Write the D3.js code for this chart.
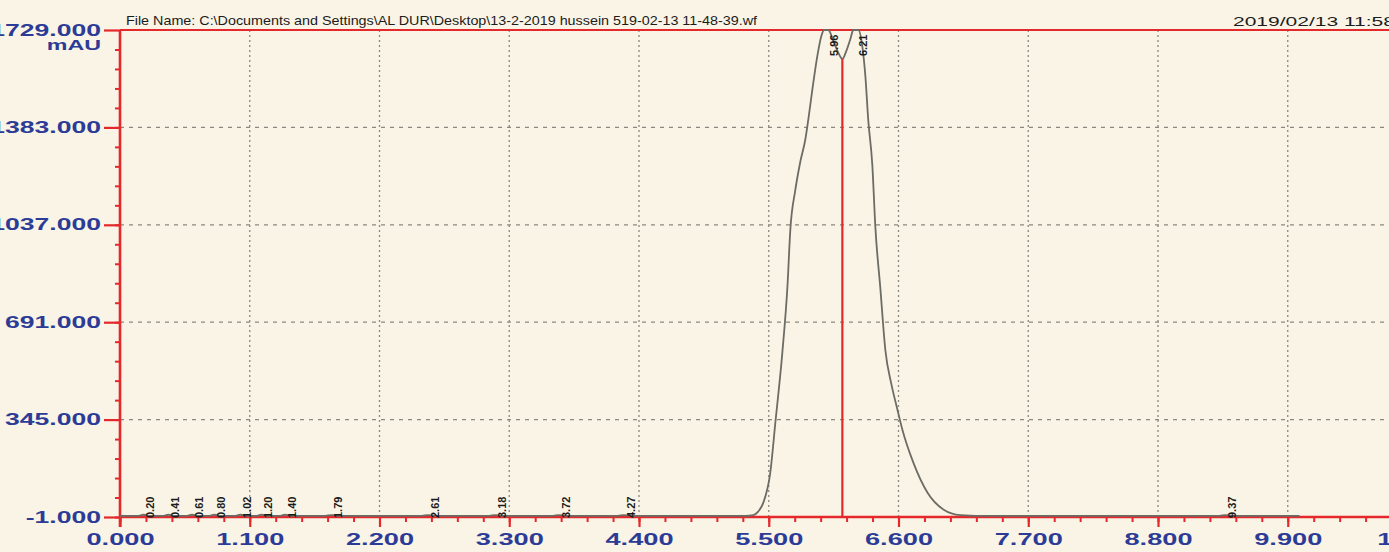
<!DOCTYPE html>
<html>
<head>
<meta charset="utf-8">
<script src="https://cdn.jsdelivr.net/npm/d3@7"></script>
<style>
  html, body { margin: 0; padding: 0; background: #faf4e6; overflow: hidden; }
  svg { display: block; }
</style>
</head>
<body>
<div id="chart"></div>
<script>
// tick values
const yTicks = [-1, 345, 691, 1037, 1383, 1729];
const xTicks = [0, 1.1, 2.2, 3.3, 4.4, 5.5, 6.6, 7.7, 8.8, 9.9, 11];

// retention times printed above each peak
const peakTimes = [0.20, 0.41, 0.61, 0.80, 1.02, 1.20, 1.40, 1.79, 2.61, 3.18, 3.72, 4.27, 5.96, 6.21, 9.37];
const peakLabels = ["0.20", "0.41", "0.61", "0.80", "1.02", "1.20", "1.40", "1.79", "2.61", "3.18", "3.72", "4.27", "5.96", "6.21", "9.37"];
const topPeaks = ["5.96", "6.21"];

// detector trace (min, mAU), clipped at full scale
const traceTime = [
  0, 0.15, 0.20, 0.26, 0.36, 0.41, 0.47, 0.56, 0.61, 0.67, 0.75, 0.80, 0.86,
  0.97, 1.02, 1.08, 1.15, 1.20, 1.26, 1.35, 1.40, 1.46, 1.74, 1.79, 1.86,
  2.56, 2.61, 2.68, 3.13, 3.18, 3.25, 3.67, 3.72, 3.79, 4.22, 4.27, 4.34,
  5.00, 5.30, 5.37, 5.41, 5.454, 5.513, 5.556, 5.615, 5.658, 5.683, 5.725,
  5.768, 5.81, 5.835, 5.869, 5.912, 5.946, 5.97, 6.005, 6.048, 6.09, 6.124,
  6.158, 6.192, 6.217, 6.26, 6.293, 6.319, 6.344, 6.378, 6.404, 6.446, 6.489,
  6.54, 6.59, 6.633, 6.726, 6.845, 6.98, 7.125, 7.38, 8.50, 9.32, 9.37, 9.43, 10.0
];
const traceSignal = [
  3, 3, 7, 3, 3, 7, 3, 3, 7, 3, 3, 7, 3,
  3, 7, 3, 3, 7, 3, 3, 7, 3, 3, 6, 3,
  3, 6, 3, 3, 6, 3, 3, 6, 3, 3, 6, 3,
  3, 3, 6, 18, 50, 157, 334, 582, 815, 1020, 1160,
  1262, 1340, 1410, 1515, 1637, 1708, 1729, 1729, 1690, 1648, 1626,
  1655, 1697, 1729, 1729, 1672, 1566, 1407, 1250, 1028, 812, 590,
  470, 382, 309, 192, 86, 26, 6, 3, 3, 3, 6, 3, 3
];
const valleyTime = 6.124;
const valleySignal = 1626;

const title = "File Name: C:\\Documents and Settings\\AL DUR\\Desktop\\13-2-2019 hussein 519-02-13 11-48-39.wf";
const stamp = "2019/02/13 11:58";

const width = 1389, height = 552;
const red = "#e5282b", blue = "#2c3c96", ink = "#1c1c1c";
const font = "'Liberation Sans', Arial, sans-serif";
const fmt = d => d3.format(".3f")(d).replace("\u2212", "-");

const x = d3.scaleLinear().domain([0, 11]).range([120, 1417.5]);
const y = d3.scaleLinear().domain([-1, 1729]).range([517, 30]);

const svg = d3.select("#chart").append("svg")
  .attr("width", width)
  .attr("height", height)
  .style("font-family", font);

svg.append("rect").attr("width", width).attr("height", height).attr("fill", "#faf4e6");

// dotted grid
svg.append("g").selectAll("line")
  .data(xTicks.filter(d => d > 0 && d < 11))
  .join("line")
  .attr("x1", d => x(d)).attr("x2", d => x(d))
  .attr("y1", y(1729)).attr("y2", y(-1))
  .attr("stroke", "#8a8880").attr("stroke-width", 1.3)
  .attr("stroke-dasharray", "2,3");

svg.append("g").selectAll("line")
  .data(yTicks.filter(d => d > -1 && d < 1729))
  .join("line")
  .attr("x1", x(0)).attr("x2", width)
  .attr("y1", d => y(d)).attr("y2", d => y(d))
  .attr("stroke", "#8a8880").attr("stroke-width", 1.2)
  .attr("stroke-dasharray", "4,5");

// minor ticks (5 divisions per major)
const yMinor = d3.range(-1, 1729, 346 / 5);
const xMinor = d3.range(0, 11.01, 0.22);

svg.append("g")
  .attr("transform", `translate(${x(0)},0)`)
  .call(d3.axisLeft(y).tickValues(yMinor).tickSize(5).tickFormat(""))
  .call(g => g.select(".domain").remove())
  .call(g => g.selectAll("line").attr("stroke", red).attr("stroke-width", 2));

svg.append("g")
  .attr("transform", `translate(0,${y(-1)})`)
  .call(d3.axisBottom(x).tickValues(xMinor).tickSize(5).tickFormat(""))
  .call(g => g.select(".domain").remove())
  .call(g => g.selectAll("line").attr("stroke", red).attr("stroke-width", 2));

// major ticks + labels
svg.append("g")
  .attr("transform", `translate(${x(0)},0)`)
  .call(d3.axisLeft(y).tickValues(yTicks).tickSize(16).tickPadding(3).tickFormat(fmt))
  .call(g => g.select(".domain").remove())
  .call(g => g.selectAll("line").attr("stroke", red).attr("stroke-width", 2.2))
  .call(g => g.selectAll("text")
    .attr("x", 0)
    .attr("transform", "translate(-19,0) scale(1.66,1)")
    .attr("fill", blue)
    .attr("font-size", 16)
    .attr("font-weight", "bold")
    .attr("font-family", font));

svg.append("g")
  .attr("transform", `translate(0,${y(-1)})`)
  .call(d3.axisBottom(x).tickValues(xTicks).tickSize(10).tickPadding(6).tickFormat(fmt))
  .call(g => g.select(".domain").remove())
  .call(g => g.selectAll("line").attr("stroke", red).attr("stroke-width", 2.2))
  .call(g => g.selectAll("text")
    .attr("transform", "scale(1.6,1)")
    .attr("fill", blue)
    .attr("font-size", 17)
    .attr("font-weight", "bold")
    .attr("font-family", font));

// unit
svg.append("text")
  .attr("transform", `translate(${x(0) - 19},${y(1729) + 20}) scale(1.55,1)`)
  .attr("text-anchor", "end")
  .attr("fill", blue)
  .attr("font-size", 15)
  .attr("font-weight", "bold")
  .text("mAU");

// frame lines
svg.append("line")
  .attr("x1", x(0)).attr("x2", x(0))
  .attr("y1", y(1729)).attr("y2", y(-1) + 10)
  .attr("stroke", red).attr("stroke-width", 2.6);
svg.append("line")
  .attr("x1", x(0)).attr("x2", width)
  .attr("y1", y(-1)).attr("y2", y(-1))
  .attr("stroke", red).attr("stroke-width", 2.6);
svg.append("line")
  .attr("x1", x(0)).attr("x2", width)
  .attr("y1", y(1729)).attr("y2", y(1729))
  .attr("stroke", red).attr("stroke-width", 2.2);

// trace
const trace = traceTime.map((t, i) => [t, traceSignal[i]]);
svg.append("path")
  .datum(trace)
  .attr("fill", "none")
  .attr("stroke", "#6c6c64")
  .attr("stroke-width", 1.8)
  .attr("stroke-linejoin", "round")
  .attr("d", d3.line().x(d => x(d[0])).y(d => y(d[1])).curve(d3.curveMonotoneX));

// peak separation drop line
svg.append("line")
  .attr("x1", x(valleyTime)).attr("x2", x(valleyTime))
  .attr("y1", y(valleySignal)).attr("y2", y(-1))
  .attr("stroke", red).attr("stroke-width", 2.2);

// retention time labels
svg.append("g").selectAll("text")
  .data(peakTimes.map((t, i) => ({ t, label: peakLabels[i] })))
  .join("text")
  .attr("transform", d => topPeaks.includes(d.label)
    ? `translate(${x(d.t) + 11},${y(1729) + 26}) rotate(-90)`
    : `translate(${x(d.t) + 7},${y(-1) + 1}) rotate(-90)`)
  .attr("dy", "0.35em")
  .attr("fill", ink)
  .attr("font-size", 11)
  .attr("font-weight", "bold")
  .text(d => d.label);

// header
svg.append("text")
  .attr("x", 126).attr("y", 25)
  .attr("fill", ink)
  .attr("font-size", 13)
  .attr("textLength", 631)
  .attr("lengthAdjust", "spacingAndGlyphs")
  .text(title);

svg.append("text")
  .attr("x", 1233).attr("y", 26)
  .attr("fill", ink)
  .attr("font-size", 13)
  .attr("textLength", 162)
  .attr("lengthAdjust", "spacingAndGlyphs")
  .text(stamp);
</script>
</body>
</html>
